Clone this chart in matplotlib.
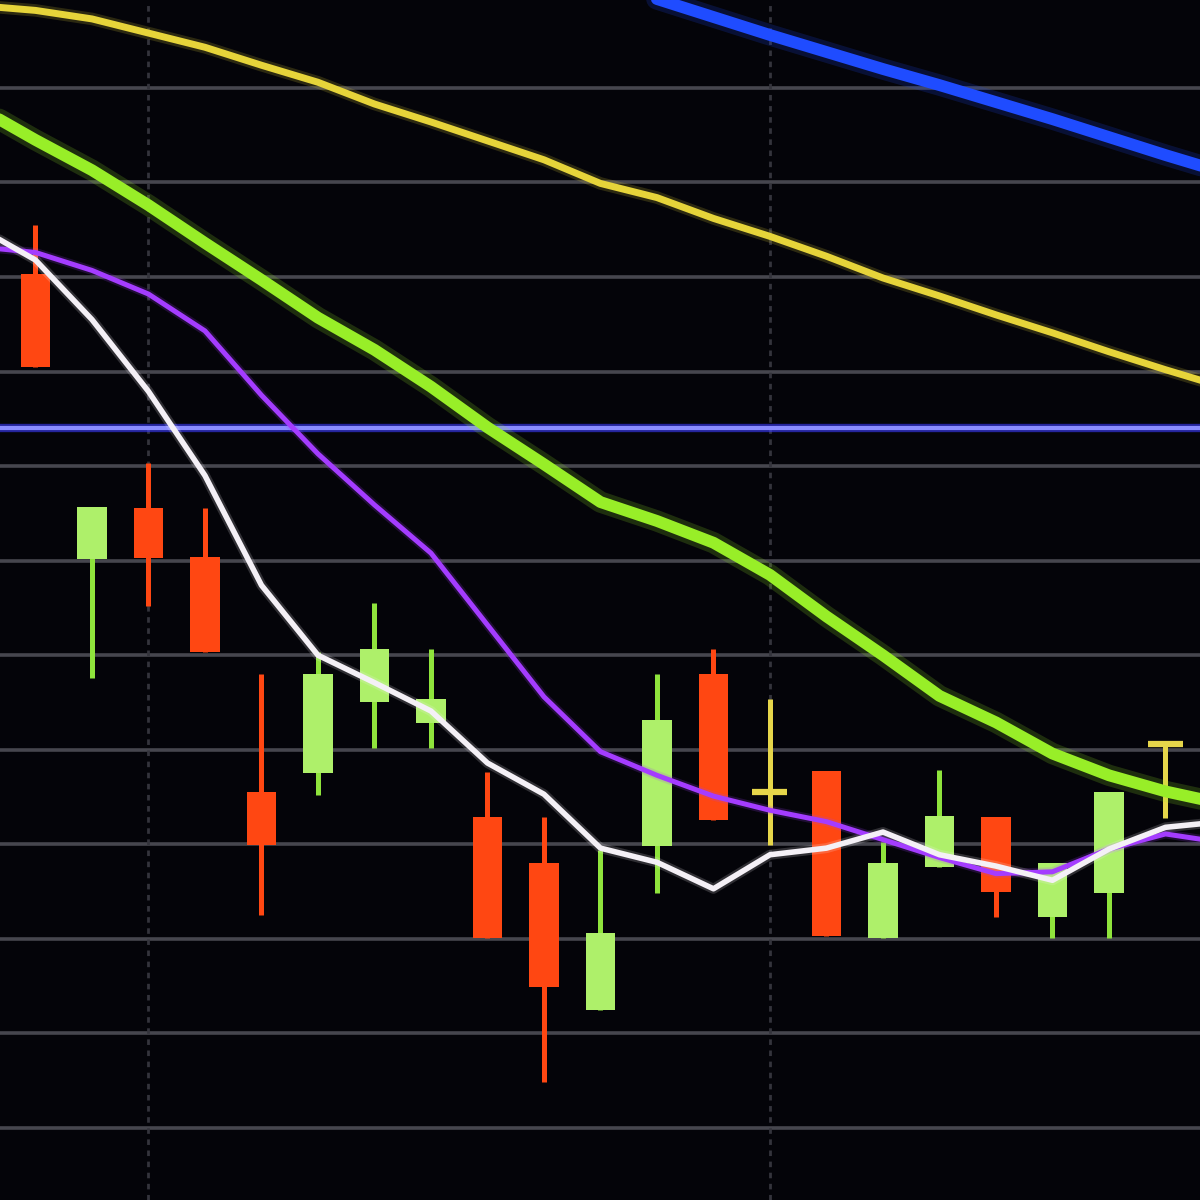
import numpy as np
import matplotlib
matplotlib.use("Agg")
import matplotlib.pyplot as plt
from matplotlib.patches import Rectangle

# daily candles, oldest first
opens  = [19.03, 16.02, 16.56, 16.04, 13.55, 13.75, 14.51, 14.28, 13.29, 12.80, 11.25,
          12.98, 14.80, 13.55, 13.78, 12.01, 12.76, 13.29, 12.23, 12.49, 14.06]
highs  = [19.55, 16.57, 17.03, 16.56, 14.80, 15.03, 15.55, 15.07, 13.77, 13.29, 12.94,
          14.80, 15.07, 14.54, 13.78, 13.02, 13.79, 13.29, 12.80, 13.55, 14.06]
lows   = [18.05, 14.76, 15.52, 15.03, 12.25, 13.52, 14.02, 14.02, 12.01, 10.49, 11.25,
          12.49, 13.26, 12.99, 12.03, 12.01, 12.76, 12.23, 12.01, 12.01, 13.28]
closes = [18.05, 16.57, 16.03, 15.03, 12.99, 14.80, 15.07, 14.54, 12.01, 11.49, 12.06,
          14.32, 13.26, 13.55, 12.03, 12.80, 13.30, 12.50, 12.80, 13.55, 14.06]

# moving averages, sampled one bar before the first candle to one bar after the last
ma_fast   = [19.52, 19.18, 18.55, 17.79, 16.90, 15.74, 15.00, 14.71, 14.41, 13.86, 13.53, 12.96,
             12.81, 12.53, 12.89, 12.96, 13.13, 12.89, 12.77, 12.62, 12.95, 13.18, 13.24]
ma_10     = [19.32, 19.26, 19.07, 18.82, 18.43, 17.75, 17.13, 16.59, 16.08, 15.32, 14.56, 13.98,
             13.73, 13.51, 13.36, 13.24, 13.05, 12.86, 12.69, 12.71, 12.95, 13.11, 13.02]
ma_25     = [20.79, 20.45, 20.13, 19.76, 19.36, 18.97, 18.57, 18.23, 17.84, 17.41, 17.02, 16.62,
             16.42, 16.19, 15.85, 15.41, 15.00, 14.57, 14.29, 13.96, 13.73, 13.56, 13.43]
ma_75     = [21.87, 21.82, 21.73, 21.58, 21.43, 21.24, 21.06, 20.83, 20.64, 20.44, 20.24, 19.99,
             19.84, 19.62, 19.43, 19.22, 18.99, 18.80, 18.60, 18.41, 18.21, 18.02, 17.84]
ma_200    = [None] * 10 + [22.32, 22.13, 21.94, 21.75, 21.56, 21.38, 21.20, 21.03, 20.85,
                           20.67, 20.48, 20.29, 20.11]
level     = 17.40
grid_prices = list(range(10, 22))
grid_bars   = [2, 13]

BG = "#040409"
UP = "#aef06a"
UP_WICK = "#8fe43c"
DOWN = "#ff4712"
DOJI = "#e6d64a"

fig = plt.figure(figsize=(12, 12), dpi=100, facecolor=BG)
ax = fig.add_axes([0, 0, 1, 1], facecolor=BG)
ax.set_xlim(-0.628, 20.611)
ax.set_ylim(9.2385, 21.930)
ax.axis("off")

# screen grid
for p in grid_prices:
    ax.axhline(p, color="#46464e", lw=2.6, zorder=1)
for b in grid_bars:
    ax.axvline(b, color="#34343c", lw=2.0, ls=(0, (2, 2)), zorder=1)

# candles
width = 0.53
for i, (o, h, l, c) in enumerate(zip(opens, highs, lows, closes)):
    if c > o:
        body, wick = UP, UP_WICK
    elif c < o:
        body, wick = DOWN, DOWN
    else:
        body, wick = DOJI, DOJI
    ax.vlines(i, l, h, color=wick, lw=3.6, zorder=2)
    if c == o:
        ax.hlines(o, i - 0.31, i + 0.31, color=body, lw=4.5, zorder=3)
    else:
        ax.add_patch(Rectangle((i - width / 2, min(o, c)), width, abs(c - o),
                               facecolor=body, edgecolor="none", zorder=3))

# moving averages with a little screen glow
x = np.arange(-1, len(ma_fast) - 1)
lines = [
    (ma_200, "#1f4cff", 8.5),
    (ma_75, "#e6d43a", 5.0),
    (ma_25, "#98ee28", 8.5),
    (ma_10, "#a43cff", 3.6),
    (ma_fast, "#f4f0f6", 4.0),
]
ax.axhline(level, color="#3a3aff", lw=6, alpha=0.6, zorder=4)
ax.axhline(level, color="#8a8cff", lw=3, zorder=4)
for vals, col, lw in lines:
    y = np.array([np.nan if v is None else v for v in vals], dtype=float)
    ax.plot(x, y, color=col, lw=lw * 1.8, alpha=0.18, solid_capstyle="round", zorder=5)
    ax.plot(x, y, color=col, lw=lw, solid_capstyle="round", zorder=6)

fig.savefig("out.png", dpi=100, facecolor=BG)
